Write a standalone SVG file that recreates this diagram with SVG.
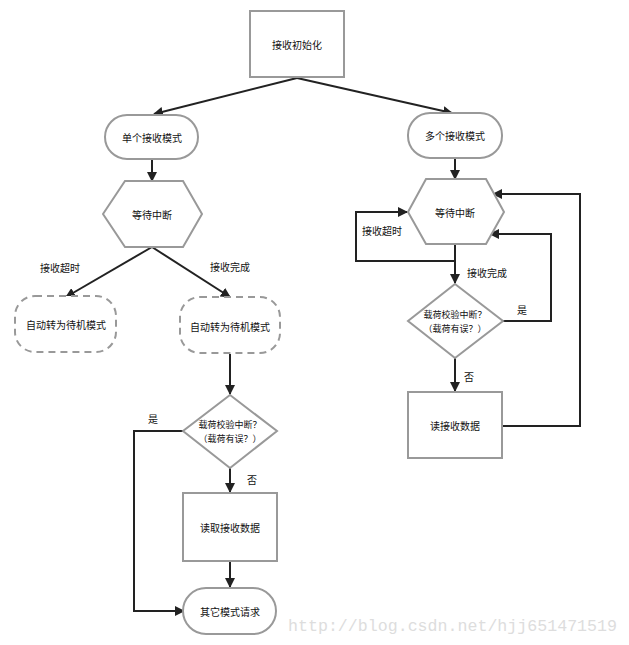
<svg xmlns="http://www.w3.org/2000/svg" width="629" height="645" viewBox="0 0 629 645">
<style>
.n{fill:#fff;stroke:#999;stroke-width:2}
.d{fill:#fff;stroke:#999;stroke-width:2;stroke-dasharray:7,5}
.t{font-family:"Noto Sans CJK SC","Noto Sans",sans-serif;font-size:10px;fill:#111;text-anchor:middle;dominant-baseline:central}
.s{font-size:9px}
.c{fill:none;stroke:#222;stroke-width:2}
</style>
<defs>
<marker id="a" viewBox="0 0 10 10" refX="9" refY="5" markerWidth="5" markerHeight="5" orient="auto" markerUnits="strokeWidth">
<path d="M0,0L10,5L0,10z" fill="#222"/>
</marker>
</defs>
<rect width="629" height="645" fill="#fff"/>
<g id="connectors">
<path class="c" d="M297,78L154,114" marker-end="url(#a)"/>
<path class="c" d="M297,78L452,113" marker-end="url(#a)"/>
<path class="c" d="M152,160V181" marker-end="url(#a)"/>
<path class="c" d="M152,247L66,297" marker-end="url(#a)"/>
<path class="c" d="M152,247L230,297" marker-end="url(#a)"/>
<path class="c" d="M230,354V394" marker-end="url(#a)"/>
<path class="c" d="M230,468V492" marker-end="url(#a)"/>
<path class="c" d="M230,561V587" marker-end="url(#a)"/>
<path class="c" d="M183,431H134V611H184" marker-end="url(#a)"/>
<path class="c" d="M455,158V179" marker-end="url(#a)"/>
<path class="c" d="M455,244V283" marker-end="url(#a)"/>
<path class="c" d="M455,261H356V212H407" marker-end="url(#a)"/>
<path class="c" d="M455,358V391" marker-end="url(#a)"/>
<path class="c" d="M503,321H551V234H490" marker-end="url(#a)"/>
<path class="c" d="M502,426H580V194H493" marker-end="url(#a)"/>
</g>
<g id="n_init"><rect class="n" x="250" y="11" width="94" height="66"/><text class="t" x="297" y="44">接收初始化</text></g>
<g id="n_single"><rect class="n" x="105" y="115" width="93" height="44" rx="22"/><text class="t" x="152" y="137">单个接收模式</text></g>
<g id="n_wait1"><polygon class="n" points="103,214 125,181 183,181 202,214 183,247 125,247"/><text class="t" x="152" y="214">等待中断</text></g>
<g id="n_auto1"><rect class="d" x="15" y="296" width="101" height="56" rx="20"/><text class="t" x="66" y="324">自动转为待机模式</text></g>
<g id="n_auto2"><rect class="d" x="180" y="297" width="100" height="56" rx="20"/><text class="t" x="230" y="326">自动转为待机模式</text></g>
<g id="n_check1"><polygon class="n" points="230,395 277,431 230,468 183,431"/><text class="t s" x="230" y="424">载荷校验中断？</text><text class="t s" x="230" y="438">（载荷有误？）</text></g>
<g id="n_read1"><rect class="n" x="183" y="493" width="94" height="68"/><text class="t" x="230" y="527">读取接收数据</text></g>
<g id="n_other"><rect class="n" x="183" y="588" width="93" height="46" rx="23"/><text class="t" x="230" y="611">其它模式请求</text></g>
<g id="n_multi"><rect class="n" x="408" y="113" width="94" height="45" rx="22"/><text class="t" x="455" y="135">多个接收模式</text></g>
<g id="n_wait2"><polygon class="n" points="408,212 426,179 486,179 504,212 486,244 426,244"/><text class="t" x="455" y="212">等待中断</text></g>
<g id="n_check2"><polygon class="n" points="455,284 503,321 455,358 408,321"/><text class="t s" x="455" y="314">载荷校验中断？</text><text class="t s" x="455" y="328">（载荷有误？）</text></g>
<g id="n_read2"><rect class="n" x="408" y="392" width="94" height="66"/><text class="t" x="455" y="425">读接收数据</text></g>
<g id="labels">
<text class="t" x="60" y="267">接收超时</text>
<text class="t" x="230" y="266">接收完成</text>
<text class="t" x="153" y="418">是</text>
<text class="t" x="252" y="479">否</text>
<text class="t" x="382" y="230">接收超时</text>
<text class="t" x="487" y="272">接收完成</text>
<text class="t" x="522" y="309">是</text>
<text class="t" x="469" y="376">否</text>
</g>
<text x="288" y="631" font-family="Liberation Mono,monospace" font-size="16" fill="#ddd" textLength="329" lengthAdjust="spacingAndGlyphs">http://blog.csdn.net/hjj651471519</text>
</svg>
